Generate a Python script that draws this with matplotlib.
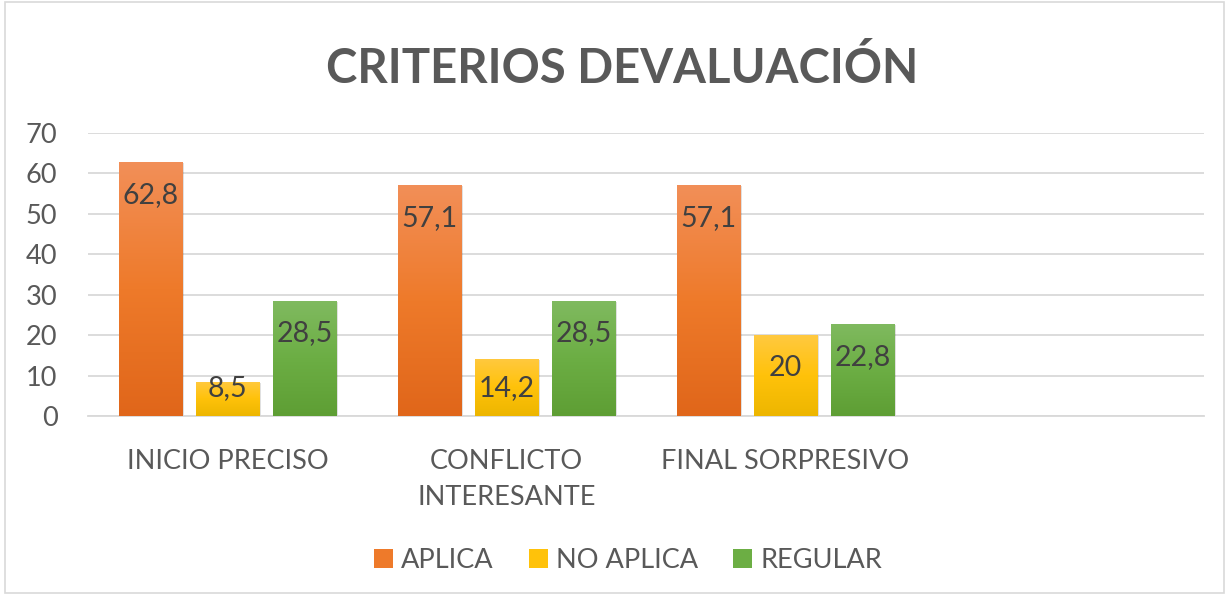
import numpy as np
import matplotlib
matplotlib.use('Agg')
import matplotlib.pyplot as plt
from matplotlib.colors import LinearSegmentedColormap
from matplotlib.patches import Rectangle

plt.rcParams['font.family'] = ['Lato', 'DejaVu Sans']

categories = ['INICIO PRECISO', 'CONFLICTO\nINTERESANTE', 'FINAL SORPRESIVO', '']
series = ['APLICA', 'NO APLICA', 'REGULAR']
aplica = [62.8, 57.1, 57.1]
no_aplica = [8.5, 14.2, 20]
regular = [28.5, 28.5, 22.8]
labels_txt = [['62,8', '57,1', '57,1'], ['8,5', '14,2', '20'], ['28,5', '28,5', '22,8']]

gradients = [('#F28F58', '#EE7A2A', '#E0661A'),
             ('#FFC940', '#FFC20A', '#EDB600'),
             ('#80BA60', '#6CAE44', '#5E9E34')]
TXT = '#595959'

fig = plt.figure(figsize=(12.29, 5.95), dpi=100)
fig.patches.append(Rectangle((0.004, 0.003), 0.992, 0.994, transform=fig.transFigure,
                             fill=False, edgecolor='#D9D9D9', linewidth=1.2))
ax = fig.add_axes([0.0716, 0.3008, 0.908, 0.4757])

x = np.arange(len(categories))
width = 0.226
step = 0.276
ax.set_xlim(-0.5, len(categories) - 0.5)
ax.set_ylim(0, 70)

for k, vals in enumerate([aplica, no_aplica, regular]):
    cmap = LinearSegmentedColormap.from_list('g%d' % k, gradients[k][::-1])
    pos = x[:len(vals)] + (k - 1) * step
    bars = ax.bar(pos, vals, width, color=gradients[k][1], zorder=3, label=series[k])
    for b, v, t in zip(bars, vals, labels_txt[k]):
        x0, y0 = b.get_x(), b.get_y()
        w, h = b.get_width(), b.get_height()
        # soft shadow
        ax.add_patch(Rectangle((x0 + 0.006, y0), w, h - 0.3, facecolor='#000000', alpha=0.12,
                               zorder=2, edgecolor='none'))
        grad = np.linspace(0, 1, 256).reshape(-1, 1)
        im = ax.imshow(grad, cmap=cmap, origin='lower', aspect='auto',
                       extent=(x0, x0 + w, y0, y0 + h), zorder=4)
        im.set_clip_path(b)
        ax.text(b.get_x() + w / 2, max(v - 8.1, 7.0), t, ha='center', va='center',
                fontsize=20.5, color='#404040', zorder=5)

ax.set_xlim(-0.5, len(categories) - 0.5)
ax.set_ylim(0, 70)
ax.set_yticks(range(0, 71, 10))
ax.set_xticks(x)
ax.set_xticklabels(categories, fontsize=19.5, color=TXT, linespacing=1.55, va='top')
ax.tick_params(axis='x', length=0, pad=24)
ax.tick_params(axis='y', length=0, pad=22, labelsize=19.5, labelcolor=TXT)
ax.grid(axis='y', color='#D9D9D9', linewidth=1.3, zorder=0)
ax.set_axisbelow(True)
for s in ['top', 'right', 'left']:
    ax.spines[s].set_visible(False)
ax.spines['bottom'].set_color('#D9D9D9')
ax.spines['bottom'].set_linewidth(1.3)

fig.text(0.506, 0.885, 'CRITERIOS DEVALUACIÓN', ha='center', va='center',
         fontsize=34, fontweight='bold', color=TXT)

leg = fig.legend(loc='center', bbox_to_anchor=(0.511, 0.058), ncol=3, frameon=False,
                 fontsize=19.5, handlelength=0.7, handleheight=0.7, handletextpad=0.3,
                 columnspacing=1.3)
for txt in leg.get_texts():
    txt.set_color(TXT)

fig.savefig('out.png', dpi=100)
